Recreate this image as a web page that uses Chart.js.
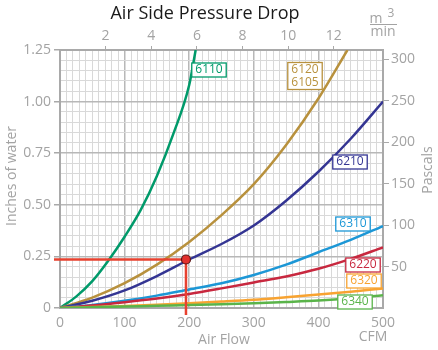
<!DOCTYPE html>
<html>
<head>
<meta charset="utf-8">
<script src="https://cdn.jsdelivr.net/npm/chart.js@4.4.0/dist/chart.umd.min.js"></script>
<style>
  html, body { margin: 0; padding: 0; background: #fff; }
  #wrap { width: 438px; height: 350px; }
</style>
</head>
<body>
<div id="wrap"><canvas id="grafico" width="438" height="350"></canvas></div>
<script>
// air flow (CFM) sample points
const flowSteep = [0, 25, 50, 75, 100, 125, 150, 175, 200, 210];
const flow6120 = [0, 50, 100, 150, 200, 250, 300, 350, 400, 445];
const flowStd = [0, 50, 100, 150, 200, 250, 300, 350, 400, 450, 500];

// pressure drop, inches of water
const p6110 = [0, 0.055, 0.13, 0.23, 0.345, 0.475, 0.64, 0.84, 1.08, 1.25];
const p6120 = [0, 0.05, 0.12, 0.21, 0.32, 0.45, 0.60, 0.79, 1.015, 1.25];
const p6210 = [0, 0.035, 0.085, 0.155, 0.235, 0.31, 0.40, 0.52, 0.66, 0.82, 1.00];
const p6310 = [0, 0.015, 0.035, 0.06, 0.09, 0.12, 0.16, 0.21, 0.27, 0.33, 0.397];
const p6220 = [0, 0.012, 0.028, 0.046, 0.068, 0.095, 0.124, 0.153, 0.19, 0.238, 0.294];
const p6320 = [0, 0.005, 0.01, 0.016, 0.023, 0.031, 0.04, 0.052, 0.065, 0.079, 0.095];
const p6340 = [0, 0.004, 0.007, 0.011, 0.014, 0.018, 0.023, 0.029, 0.036, 0.047, 0.062];

// operating point
const markerFlow = 195;
const markerDrop = 0.235;

// axis ranges / conversions
const flowMax = 500;
const dropMax = 1.25;
const PA_PER_INCH = 249.09;
const M3MIN_PER_CFM = 0.0283168;
const topTicks = [2, 4, 6, 8, 10, 12];

const FONT = '"Open Sans", "Noto Sans", sans-serif';
const GREY = '#a3a3a3';

const series = [
  { label: '6340', flow: flowStd, drop: p6340, color: '#5ab44a' },
  { label: '6320', flow: flowStd, drop: p6320, color: '#f8a331' },
  { label: '6220', flow: flowStd, drop: p6220, color: '#c8283f' },
  { label: '6310', flow: flowStd, drop: p6310, color: '#1c97d6' },
  { label: '6210', flow: flowStd, drop: p6210, color: '#343593' },
  { label: '6120', flow: flow6120, drop: p6120, color: '#b8913d' },
  { label: '6110', flow: flowSteep, drop: p6110, color: '#009a6a' },
];

const tags = [
  { lines: ['6110'], x: 209, y: 70, color: '#009a6a' },
  { lines: ['6120', '6105'], x: 305, y: 76, color: '#b8913d' },
  { lines: ['6210'], x: 350, y: 162, color: '#343593' },
  { lines: ['6310'], x: 353, y: 224, color: '#1c97d6' },
  { lines: ['6220'], x: 363, y: 265, color: '#c8283f' },
  { lines: ['6320'], x: 364, y: 281, color: '#f8a331' },
  { lines: ['6340'], x: 355, y: 302, color: '#5ab44a' },
];

function isMult(v, step) {
  return Math.abs(v / step - Math.round(v / step)) < 1e-6;
}

function drawTag(ctx, t) {
  ctx.font = '12px ' + FONT;
  const w = Math.max(...t.lines.map(l => ctx.measureText(l).width)) + 7;
  const h = t.lines.length * 13 + 1;
  ctx.fillStyle = '#fff';
  ctx.fillRect(t.x - w / 2, t.y - h / 2, w, h);
  ctx.strokeStyle = t.color;
  ctx.lineWidth = 1.3;
  ctx.strokeRect(t.x - w / 2, t.y - h / 2, w, h);
  ctx.fillStyle = t.color;
  ctx.textAlign = 'center';
  ctx.textBaseline = 'middle';
  t.lines.forEach((l, i) => ctx.fillText(l, t.x, t.y - h / 2 + 7 + 13 * i));
}

const decor = {
  id: 'decor',
  beforeDatasetDraw(chart, args) {
    if (chart.data.datasets[args.index].label !== 'punto') return;
    const ctx = chart.ctx, x = chart.scales.x, y = chart.scales.y;
    const px = x.getPixelForValue(markerFlow), py = y.getPixelForValue(markerDrop);
    ctx.save();
    ctx.strokeStyle = '#e8412f';
    ctx.lineWidth = 2.5;
    ctx.beginPath();
    ctx.moveTo(x.left - 6, py);
    ctx.lineTo(px, py);
    ctx.lineTo(px, y.bottom + 7);
    ctx.stroke();
    ctx.restore();
  },
  afterDraw(chart) {
    const ctx = chart.ctx;
    ctx.save();
    tags.forEach(t => drawTag(ctx, t));

    ctx.textAlign = 'center';
    ctx.textBaseline = 'middle';
    ctx.fillStyle = '#1a1a1a';
    ctx.font = '18px ' + FONT;
    ctx.fillText('Air Side Pressure Drop', 205, 14);

    ctx.fillStyle = GREY;
    ctx.font = '14px ' + FONT;
    ctx.fillText('Air Flow', 224, 340);
    ctx.fillText('CFM', 373, 337);

    ctx.save();
    ctx.translate(12, 176);
    ctx.rotate(-Math.PI / 2);
    ctx.fillText('Inches of water', 0, 0);
    ctx.restore();
    ctx.save();
    ctx.translate(428, 170);
    ctx.rotate(-Math.PI / 2);
    ctx.fillText('Pascals', 0, 0);
    ctx.restore();

    // m3/min unit
    ctx.fillText('m', 376, 19);
    ctx.font = '12px ' + FONT;
    ctx.fillText('3', 391, 14);
    ctx.font = '14px ' + FONT;
    ctx.fillText('min', 383, 32);
    ctx.strokeStyle = GREY;
    ctx.lineWidth = 1;
    ctx.beginPath();
    ctx.moveTo(370, 24.5);
    ctx.lineTo(397, 24.5);
    ctx.stroke();
    ctx.restore();
  }
};

const datasets = [{
  label: 'punto',
  data: [{ x: markerFlow, y: markerDrop }],
  showLine: false,
  pointRadius: 4.5,
  pointBackgroundColor: '#e2302d',
  pointBorderColor: '#5a1414',
  pointBorderWidth: 1.2,
  order: -1
}].concat(series.map(s => ({
  label: s.label,
  data: s.flow.map((f, i) => ({ x: f, y: s.drop[i] })),
  borderColor: s.color,
  borderWidth: 2.5,
  pointRadius: 0,
  fill: false,
  cubicInterpolationMode: 'monotone'
})));

const border = { display: true, color: '#a9a9a9', width: 2 };
const tickFont = { family: FONT, size: 14 };

new Chart(document.getElementById('grafico'), {
  type: 'line',
  data: { datasets: datasets },
  plugins: [decor],
  options: {
    responsive: false,
    animation: false,
    layout: { padding: 0 },
    plugins: { legend: { display: false }, tooltip: { enabled: false }, title: { display: false } },
    scales: {
      x: {
        type: 'linear', position: 'bottom', min: 0, max: flowMax,
        afterFit: s => { s.height = 42; },
        border: border,
        grid: {
          drawTicks: false,
          color: c => isMult(c.tick.value, 100) ? '#b8b8b8' : '#d9d9d9',
          lineWidth: c => isMult(c.tick.value, 100) ? 1.5 : 1
        },
        ticks: {
          stepSize: 10, autoSkip: false, maxRotation: 0, padding: 7,
          color: GREY, font: tickFont,
          callback: v => isMult(v, 100) ? String(v) : ''
        }
      },
      y: {
        type: 'linear', position: 'left', min: 0, max: dropMax,
        afterFit: s => { s.width = 60; },
        border: border,
        grid: {
          tickLength: 6,
          color: c => isMult(c.tick.value, 0.25) ? '#b8b8b8' : '#d9d9d9',
          lineWidth: c => isMult(c.tick.value, 0.25) ? 1.5 : 1,
          tickColor: c => isMult(c.tick.value, 0.25) ? '#a9a9a9' : 'rgba(0,0,0,0)'
        },
        ticks: {
          stepSize: 0.05, autoSkip: false, padding: 3,
          color: GREY, font: tickFont,
          callback: v => isMult(v, 0.25) ? (v === 0 ? '0' : v.toFixed(2)) : ''
        }
      },
      x2: {
        type: 'linear', position: 'top', min: 0, max: flowMax * M3MIN_PER_CFM,
        afterFit: s => { s.height = 50; },
        border: border,
        grid: {
          drawOnChartArea: false, tickLength: 4,
          tickColor: c => topTicks.includes(Math.round(c.tick.value * 1000) / 1000) ? '#a9a9a9' : 'rgba(0,0,0,0)'
        },
        ticks: {
          stepSize: 2, autoSkip: false, maxRotation: 0, padding: 2, includeBounds: false,
          color: GREY, font: tickFont,
          callback: v => topTicks.includes(Math.round(v * 1000) / 1000) ? String(Math.round(v)) : ''
        }
      },
      y2: {
        type: 'linear', position: 'right', min: 0, max: dropMax * PA_PER_INCH,
        afterFit: s => { s.width = 55; },
        border: border,
        grid: {
          drawOnChartArea: false, tickLength: 6,
          tickColor: c => (isMult(c.tick.value, 50) && c.tick.value > 0) ? '#a9a9a9' : 'rgba(0,0,0,0)'
        },
        ticks: {
          stepSize: 50, autoSkip: false, padding: 2, includeBounds: false,
          color: GREY, font: tickFont,
          callback: v => (isMult(v, 50) && v > 0) ? String(v) : ''
        }
      }
    }
  }
});
</script>
</body>
</html>
